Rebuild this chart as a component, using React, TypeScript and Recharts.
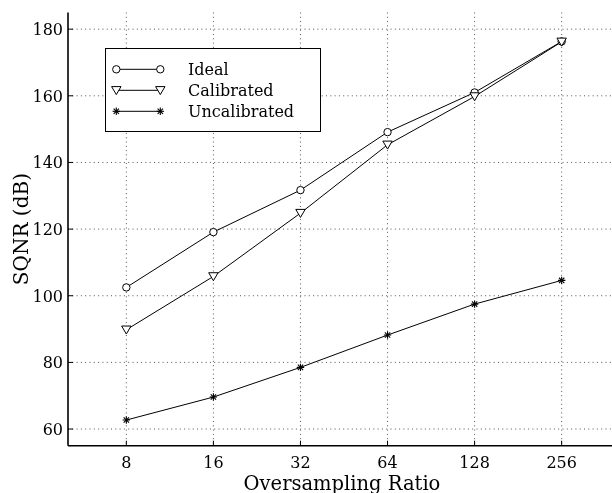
import React from 'react';
import { LineChart, Line, XAxis, YAxis, CartesianGrid } from 'recharts';

const ratios = [8, 16, 32, 64, 128, 256];
const ideal = [102.5, 119.1, 131.7, 149.1, 161.0, 176.3];
const calibrated = [89.8, 105.8, 124.8, 145.3, 159.8, 176.2];
const uncalibrated = [62.7, 69.6, 78.5, 88.2, 97.5, 104.6];
const yTicks = [60, 80, 100, 120, 140, 160, 180];
const seriesNames = ['Ideal', 'Calibrated', 'Uncalibrated'];
const xLabel = 'Oversampling Ratio';
const yLabel = 'SQNR (dB)';

const data = ratios.map((r, i) => ({
  lx: Math.log2(r),
  ratio: r,
  ideal: ideal[i],
  calibrated: calibrated[i],
  uncalibrated: uncalibrated[i],
}));
const xTicks = data.map((d) => d.lx);
const labelFor = (v: number) => {
  const d = data.find((p) => Math.abs(p.lx - v) < 1e-6);
  return d ? String(d.ratio) : '';
};

const FONT = '"DejaVu Serif", serif';

const Circle = (props: any) => {
  const { cx, cy } = props;
  if (cx == null || cy == null) return null;
  return <circle cx={cx} cy={cy} r={3.7} fill="#fff" stroke="#000" strokeWidth={1} />;
};
const Tri = (props: any) => {
  const { cx, cy } = props;
  if (cx == null || cy == null) return null;
  const pts = `${cx - 4.7},${cy - 3.7} ${cx + 4.7},${cy - 3.7} ${cx},${cy + 4.3}`;
  return <polygon points={pts} fill="#fff" stroke="#000" strokeWidth={1} />;
};
const Star = (props: any) => {
  const { cx, cy } = props;
  if (cx == null || cy == null) return null;
  const r = 3.7;
  const d = r * 0.72;
  return (
    <g stroke="#000" strokeWidth={1.1}>
      <line x1={cx} y1={cy - r} x2={cx} y2={cy + r} />
      <line x1={cx - r} y1={cy} x2={cx + r} y2={cy} />
      <line x1={cx - d} y1={cy - d} x2={cx + d} y2={cy + d} />
      <line x1={cx - d} y1={cy + d} x2={cx + d} y2={cy - d} />
    </g>
  );
};

const BottomTick = (props: any) => {
  const { x, y, payload } = props;
  return (
    <g>
      <line x1={x} y1={y} x2={x} y2={y - 5} stroke="#000" strokeWidth={1} />
      <text x={x} y={y + 22} textAnchor="middle" fontFamily={FONT} fontSize={16} fill="#000">
        {labelFor(payload.value)}
      </text>
    </g>
  );
};
const TopTick = (props: any) => {
  const { x, y } = props;
  return <line x1={x} y1={y} x2={x} y2={y + 5} stroke="#000" strokeWidth={1} />;
};
const LeftTick = (props: any) => {
  const { x, y, payload } = props;
  return (
    <g>
      <line x1={x} y1={y} x2={x + 5} y2={y} stroke="#000" strokeWidth={1} />
      <text x={x - 5} y={y + 5.8} textAnchor="end" fontFamily={FONT} fontSize={16} fill="#000">
        {payload.value}
      </text>
    </g>
  );
};

const XLabel = (props: any) => {
  const vb = props.viewBox || {};
  return (
    <text x={vb.x + vb.width / 2 - 2} y={vb.y + 44.5} textAnchor="middle" fontFamily={FONT} fontSize={19.5} fill="#000">
      {xLabel}
    </text>
  );
};
const YLabel = (props: any) => {
  const vb = props.viewBox || {};
  const cx = 20.3;
  const cy = vb.y + vb.height / 2;
  return (
    <text x={cx} y={cy} transform={`rotate(-90, ${cx}, ${cy})`} textAnchor="middle" fontFamily={FONT} fontSize={20} fill="#000">
      {yLabel}
    </text>
  );
};

const markers = [Circle, Tri, Star];

const LegendBox = () => (
  <div
    style={{
      position: 'absolute',
      left: 97,
      top: 40,
      width: 216,
      height: 84,
      background: '#fff',
      border: '1.5px solid #000',
      boxSizing: 'border-box',
    }}
  >
    <svg width={214} height={82} style={{ display: 'block' }}>
      {seriesNames.map((name, i) => {
        const y = 20.3 + i * 21;
        const M = markers[i];
        return (
          <g key={name}>
            <line x1={10.3} x2={54.3} y1={y} y2={y} stroke="#000" strokeWidth={1} />
            <M cx={10.3} cy={y} />
            <M cx={54.3} cy={y} />
            <text x={82} y={y + 5.6} fontFamily={FONT} fontSize={16} fill="#000">
              {name}
            </text>
          </g>
        );
      })}
    </svg>
  </div>
);

export default function App() {
  return (
    <div style={{ position: 'fixed', left: 8, top: 8, width: 604, height: 485, overflow: 'hidden' }}>
      <div style={{ position: 'relative', width: 640, height: 485 }}>
        <LineChart width={640} height={485} data={data} margin={{ top: 4.5, right: 28, left: 0, bottom: 0 }}>
          <CartesianGrid xAxisId="b" stroke="#555" strokeDasharray="1 3.3" horizontalValues={yTicks} verticalValues={xTicks} />
          <XAxis
            xAxisId="b"
            dataKey="lx"
            type="number"
            domain={[2.33, 8.67]}
            ticks={xTicks}
            interval={0}
            height={47.3}
            tickSize={0}
            tickMargin={0}
            tickLine={false}
            tick={<BottomTick />}
            axisLine={{ stroke: '#000', strokeWidth: 1.6 }}
            label={<XLabel />}
            allowDataOverflow
          />
          <XAxis
            xAxisId="t"
            orientation="top"
            dataKey="lx"
            type="number"
            domain={[2.33, 8.67]}
            ticks={xTicks}
            interval={0}
            height={0}
            tickSize={0}
            tickMargin={0}
            tickLine={false}
            tick={<TopTick />}
            axisLine={{ stroke: '#000', strokeWidth: 1.6 }}
            allowDataOverflow
          />
          <YAxis
            domain={[55, 185]}
            ticks={yTicks}
            interval={0}
            width={60}
            tickSize={0}
            tickMargin={0}
            tickLine={false}
            tick={<LeftTick />}
            axisLine={{ stroke: '#000', strokeWidth: 1.6 }}
            label={<YLabel />}
            allowDataOverflow
          />
          <Line xAxisId="b" dataKey="ideal" stroke="#000" strokeWidth={1} dot={<Circle />} isAnimationActive={false} />
          <Line xAxisId="b" dataKey="calibrated" stroke="#000" strokeWidth={1} dot={<Tri />} isAnimationActive={false} />
          <Line xAxisId="b" dataKey="uncalibrated" stroke="#000" strokeWidth={1} dot={<Star />} isAnimationActive={false} />
        </LineChart>
        <LegendBox />
      </div>
    </div>
  );
}
